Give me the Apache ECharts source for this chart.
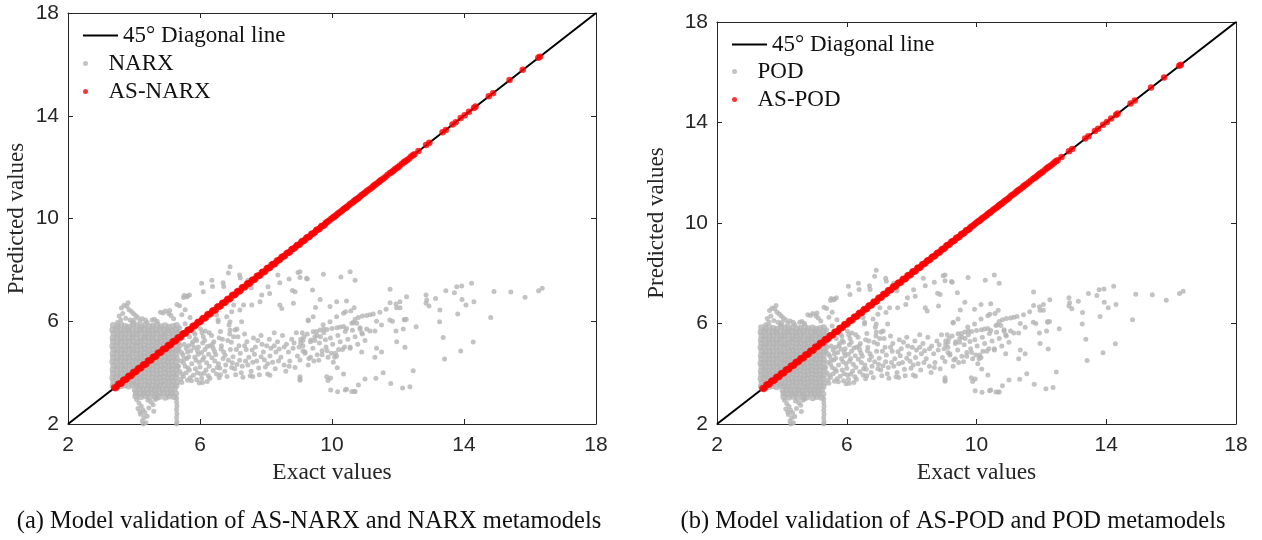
<!DOCTYPE html>
<html>
<head>
<meta charset="utf-8">
<script src="https://cdn.jsdelivr.net/npm/echarts@6/dist/echarts.min.js"></script>
<style>
html,body{margin:0;padding:0;background:#fff;}
#c{width:1262px;height:540px;}
</style>
</head>
<body>
<div id="c"></div>
<script>
// ---------- data ----------
const axisTicks = [2, 6, 10, 14, 18];
const diagonal = [[2, 2], [18, 18]];
const captions = [
  '(a) Model validation of AS-NARX and NARX metamodels',
  '(b) Model validation of AS-POD and POD metamodels'
];
const legendNames = ['45° Diagonal line', 'NARX', 'AS-NARX', 'POD', 'AS-POD'];

// dense block of baseline predictions (gray)
const grayDense = [
  [3.37,5.84],[3.50,5.79],[3.61,5.86],[3.74,5.81],[3.85,5.78],[3.98,5.88],[4.10,5.83],[4.21,5.80],[4.33,5.85],[4.46,5.79],[4.57,5.82],[4.70,5.87],[4.81,5.80],[4.94,5.83],[5.05,5.78],[5.18,5.81],[5.29,5.84],
  [3.35,5.66],[3.47,5.69],[3.59,5.64],[3.72,5.68],[3.83,5.65],[3.96,5.70],[4.07,5.63],[4.19,5.67],[4.31,5.69],[4.43,5.64],[4.56,5.68],[4.67,5.66],[4.79,5.70],[4.91,5.65],[5.03,5.67],[5.15,5.63],[5.27,5.69],
  [3.38,5.52],[3.49,5.49],[3.62,5.53],[3.73,5.50],[3.86,5.54],[3.97,5.48],[4.09,5.51],[4.22,5.55],[4.34,5.49],[4.45,5.52],[4.58,5.50],[4.69,5.53],[4.82,5.48],[4.93,5.51],[5.06,5.54],[5.17,5.50],[5.30,5.52],
  [3.36,5.35],[3.48,5.38],[3.60,5.34],[3.71,5.37],[3.84,5.33],[3.95,5.39],[4.08,5.36],[4.20,5.34],[4.32,5.38],[4.44,5.35],[4.55,5.37],[4.68,5.33],[4.80,5.36],[4.92,5.39],[5.04,5.34],[5.16,5.37],[5.28,5.35],
  [3.37,5.21],[3.50,5.18],[3.61,5.22],[3.74,5.19],[3.85,5.23],[3.98,5.20],[4.10,5.17],[4.21,5.21],[4.33,5.24],[4.46,5.19],[4.57,5.22],[4.70,5.18],[4.81,5.20],[4.94,5.23],[5.05,5.19],[5.18,5.21],[5.29,5.18],
  [3.35,5.04],[3.47,5.07],[3.59,5.03],[3.72,5.06],[3.83,5.02],[3.96,5.08],[4.07,5.05],[4.19,5.03],[4.31,5.07],[4.43,5.04],[4.56,5.06],[4.67,5.02],[4.79,5.05],[4.91,5.08],[5.03,5.03],[5.15,5.06],[5.27,5.04],
  [3.38,4.90],[3.49,4.87],[3.62,4.91],[3.73,4.88],[3.86,4.92],[3.97,4.89],[4.09,4.86],[4.22,4.90],[4.34,4.93],[4.45,4.88],[4.58,4.91],[4.69,4.87],[4.82,4.89],[4.93,4.92],[5.06,4.88],[5.17,4.90],[5.30,4.87],
  [3.36,4.73],[3.48,4.76],[3.60,4.72],[3.71,4.75],[3.84,4.71],[3.95,4.77],[4.08,4.74],[4.20,4.72],[4.32,4.76],[4.44,4.73],[4.55,4.75],[4.68,4.71],[4.80,4.74],[4.92,4.77],[5.04,4.72],[5.16,4.75],[5.28,4.73],
  [3.37,4.59],[3.50,4.56],[3.61,4.60],[3.74,4.57],[3.85,4.61],[3.98,4.58],[4.10,4.55],[4.21,4.59],[4.33,4.62],[4.46,4.57],[4.57,4.60],[4.70,4.56],[4.81,4.58],[4.94,4.61],[5.05,4.57],[5.18,4.59],[5.29,4.56],
  [3.35,4.42],[3.47,4.45],[3.59,4.41],[3.72,4.44],[3.83,4.40],[3.96,4.46],[4.07,4.43],[4.19,4.41],[4.31,4.45],[4.43,4.42],[4.56,4.44],[4.67,4.40],[4.79,4.43],[4.91,4.46],[5.03,4.41],[5.15,4.44],[5.27,4.42],
  [3.38,4.28],[3.49,4.25],[3.62,4.29],[3.73,4.26],[3.86,4.30],[3.97,4.27],[4.09,4.24],[4.22,4.28],[4.34,4.31],[4.45,4.26],[4.58,4.29],[4.69,4.25],[4.82,4.27],[4.93,4.30],[5.06,4.26],[5.17,4.28],[5.30,4.25],
  [3.36,4.11],[3.48,4.14],[3.60,4.10],[3.71,4.13],[3.84,4.09],[3.95,4.15],[4.08,4.12],[4.20,4.10],[4.32,4.14],[4.44,4.11],[4.55,4.13],[4.68,4.09],[4.80,4.12],[4.92,4.15],[5.04,4.10],[5.16,4.13],[5.28,4.11],
  [3.37,3.97],[3.50,3.94],[3.61,3.98],[3.74,3.95],[3.85,3.99],[3.98,3.96],[4.10,3.93],[4.21,3.97],[4.33,4.00],[4.46,3.95],[4.57,3.98],[4.70,3.94],[4.81,3.96],[4.94,3.99],[5.05,3.95],[5.18,3.97],[5.29,3.94],
  [3.35,3.80],[3.47,3.83],[3.59,3.79],[3.72,3.82],[3.83,3.78],[3.96,3.84],[4.07,3.81],[4.19,3.79],[4.31,3.83],[4.43,3.80],[4.56,3.82],[4.67,3.78],[4.79,3.81],[4.91,3.84],[5.03,3.79],[5.15,3.82],[5.27,3.80],
  [3.38,3.66],[3.49,3.63],[3.62,3.67],[3.73,3.64],[3.86,3.68],[3.97,3.65],[4.09,3.62],[4.22,3.66],[4.34,3.69],[4.45,3.64],[4.58,3.67],[4.69,3.63],[4.82,3.65],[4.93,3.68],[5.06,3.64],[5.17,3.66],[5.30,3.63],
  [3.36,3.49],[3.48,3.52],[3.60,3.48],[3.71,3.51],[3.84,3.47],[3.95,3.53],[4.08,3.50],[4.20,3.48],[4.32,3.52],[4.44,3.49],[4.55,3.51],[4.68,3.47],[4.80,3.50],[4.92,3.53],[5.04,3.48],[5.16,3.51],[5.28,3.49],
  [4.03,3.34],[4.15,3.37],[4.27,3.33],[4.39,3.36],[4.51,3.35],[4.63,3.32],[4.75,3.38],[4.87,3.34],[4.99,3.36],[5.11,3.33],[5.23,3.37],
  [4.06,3.21],[4.18,3.18],[4.30,3.22],[4.42,3.19],[4.54,3.23],[4.66,3.17],[4.78,3.20],[4.90,3.22],[5.02,3.18],[5.14,3.21],[5.27,3.19],
  [4.05,3.08],[4.21,3.05],[4.35,3.09],[4.48,3.04],[4.64,3.07],[4.77,3.06],[4.95,3.03],[5.08,3.08],[5.22,3.05]
];

// sparse baseline predictions (gray)
const graySparse = [
  // below the block
  [4.08,2.95],[4.15,2.82],[4.22,2.70],[4.12,2.60],[4.27,2.55],[4.33,2.45],[4.20,2.38],[4.30,2.25],[4.25,2.12],[4.36,2.05],[4.28,2.00],
  [4.40,2.30],[4.45,2.62],[4.52,2.85],[4.58,2.75],[4.65,2.95],[4.42,2.92],[4.70,3.00],[4.18,2.48],[4.60,2.50],
  [5.29,3.00],[5.29,2.85],[5.30,2.70],[5.29,2.55],[5.30,2.40],[5.29,2.25],[5.30,2.10],[5.29,2.00],
  // above the block
  [3.55,6.20],[3.62,6.52],[3.70,6.62],[3.78,6.58],[3.85,6.45],[3.92,6.38],[3.98,6.30],[4.05,6.22],[4.12,6.15],[3.66,6.30],
  [3.60,6.05],[3.75,6.12],[3.88,6.05],[4.00,6.05],[4.18,6.00],[3.50,5.95],[3.82,6.72],[4.25,6.10],[4.35,6.05],[3.95,5.95],[4.40,5.95],
  [4.55,6.05],[4.62,6.08],[4.80,6.35],[4.88,6.32],[4.95,6.40],[5.05,6.30],[5.12,6.22],[5.08,6.42],[5.30,6.65],[5.38,6.60],
  [5.50,6.92],[5.62,6.98],[5.68,7.02],[5.20,6.10],[4.70,6.00],[5.45,6.25],[5.55,6.45],[5.70,6.15],[5.55,5.90],[5.92,5.92],
  // band x 5.3 - 6.3
  [5.38,5.75],[5.45,5.55],[5.40,5.30],[5.52,5.10],[5.36,4.90],[5.48,4.70],[5.42,4.45],[5.55,4.25],[5.38,4.05],[5.50,3.85],
  [5.62,3.70],[5.45,3.62],[5.60,5.62],[5.68,5.40],[5.65,5.05],[5.72,4.85],[5.60,4.55],[5.75,4.35],[5.68,4.10],[5.80,3.90],
  [5.74,3.68],[5.85,5.50],[5.90,5.25],[5.82,4.98],[5.95,4.72],[5.88,4.48],[6.00,4.22],[5.92,4.00],[6.05,3.78],[6.02,5.70],
  [6.10,5.40],[6.08,5.15],[6.15,4.90],[6.12,4.60],[6.20,4.38],[6.18,4.10],[6.25,3.88],[6.22,3.65],[5.98,3.60],[5.78,5.75],
  [6.28,5.55],[6.30,5.05],[5.42,3.75],[5.58,4.00],[5.35,4.25],[5.52,4.55],[5.62,4.80],[5.40,5.05],[5.78,5.20],[5.95,5.00],
  [5.33,5.60],[5.47,5.38],[5.36,5.15],[5.58,4.95],[5.44,4.78],[5.66,4.62],[5.50,4.38],[5.64,4.18],[5.46,3.95],[5.70,3.80],
  [5.80,5.58],[5.86,5.32],[5.76,5.10],[5.92,4.85],[5.84,4.60],[5.98,4.40],[5.86,4.15],[6.02,3.95],[5.90,3.72],[6.08,3.62],
  [6.06,5.55],[6.14,5.25],[6.22,5.02],[6.05,4.78],[6.26,4.72],[6.08,4.50],[6.28,4.25],[6.12,3.98],[6.30,3.78],[6.16,5.62],
  // band x 6.3 - 7.3
  [6.35,5.45],[6.42,5.20],[6.40,4.95],[6.48,4.70],[6.45,4.45],[6.52,4.20],[6.50,3.95],[6.58,3.80],[6.62,5.60],[6.68,5.30],
  [6.65,5.05],[6.72,4.80],[6.70,4.55],[6.78,4.30],[6.75,4.05],[6.82,3.85],[6.90,5.50],[6.95,5.18],[6.92,4.90],[7.00,4.62],
  [6.98,4.38],[7.05,4.15],[7.08,3.92],[7.15,5.40],[7.18,5.05],[7.22,4.75],[7.20,4.48],[7.28,4.25],[7.25,4.00],[7.12,5.70],
  [6.88,5.85],[6.55,6.05],[7.30,3.82],
  [6.38,5.10],[6.44,4.82],[6.36,4.58],[6.56,4.35],[6.40,4.08],[6.62,3.92],[6.58,5.35],[6.64,4.92],[6.76,4.68],[6.60,4.18],
  [6.84,5.25],[6.86,4.48],[6.96,4.20],[7.02,5.40],[7.10,4.90],[7.12,4.32],
  // band x 7.3 - 9.0
  [7.35,5.50],[7.42,5.20],[7.40,4.90],[7.48,4.60],[7.45,4.30],[7.55,4.05],[7.52,3.88],[7.62,5.35],[7.68,5.00],[7.65,4.72],
  [7.72,4.45],[7.78,4.18],[7.85,5.45],[7.88,5.10],[7.92,4.80],[7.95,4.50],[7.98,4.22],[8.05,3.95],[8.10,5.30],[8.15,4.95],
  [8.12,4.65],[8.20,4.40],[8.25,5.55],[8.28,4.15],[7.60,3.85],[7.80,3.92],[8.12,3.90],
  [7.35,5.05],[7.38,4.45],[7.58,4.88],[7.60,4.40],[7.75,5.25],[7.85,4.62],[8.02,5.05],[8.05,4.35],[8.30,4.80],[8.38,4.45],
  [8.55,5.00],[8.70,4.25],[8.85,5.15],[8.25,5.05],
  [8.35,5.20],[8.40,4.92],[8.45,4.60],[8.50,5.45],[8.55,4.30],[8.62,5.10],[8.68,4.80],[8.72,4.45],[8.78,5.30],[8.82,4.95],
  [8.88,4.20],[8.92,5.55],[8.95,4.65],[9.00,5.00],[8.60,4.05],
  // upper scatter x 6 - 9
  [6.91,8.12],[6.86,7.88],[7.20,7.80],[7.22,7.68],[6.70,7.50],[6.72,7.35],[6.05,7.48],[6.10,7.15],[5.52,7.00],[5.60,6.95],
  [6.36,7.60],[6.38,7.35],[7.45,7.60],[7.50,7.40],[7.55,7.30],[8.36,7.80],[8.42,7.50],[8.70,7.64],[8.97,7.90],[9.03,7.70],
  [9.23,7.67],[8.80,7.20],[8.88,7.15],
  [8.06,7.34],[8.11,7.08],[7.87,7.02],[7.82,6.76],[7.57,6.63],[7.32,6.63],[7.21,6.44],[7.02,6.63],[6.96,6.37],[6.81,6.18],
  [6.91,5.98],[6.50,6.24],[6.55,5.98],[7.26,5.98],[6.91,5.66],[7.06,5.66],
  [8.42,6.63],[8.48,6.50],[8.83,6.70],[9.28,6.05],[9.43,6.18],[9.53,5.60],[9.73,5.86],[9.94,5.98],[10.14,6.18],[10.35,6.31],
  [10.44,5.72],[10.60,5.92],[10.75,5.92],
  // band x 9 - 12.5
  [9.05,5.30],[9.12,5.05],[9.18,4.80],[9.25,5.50],[9.30,4.55],[9.35,5.20],[9.42,4.95],[9.48,5.40],[9.55,4.70],[9.62,5.15],
  [9.70,4.85],[9.75,5.55],[9.82,5.00],[9.88,4.60],[9.95,5.35],[10.02,5.10],[10.10,4.75],[10.18,5.45],[10.25,5.20],[10.32,4.90],
  [10.40,5.60],[10.48,5.30],[10.55,4.95],[10.62,5.65],[10.70,5.40],[10.78,5.10],[10.85,5.75],[10.92,5.50],[11.00,5.25],
  [9.28,6.02],[9.10,5.55],[9.15,5.40],[9.12,5.25],[9.05,5.15],[9.43,5.59],[9.64,5.66],[9.75,5.70],[9.85,5.68],[10.00,5.72],
  [10.15,5.75],[10.25,5.78],[10.35,5.80],[9.55,5.45],[9.65,5.40],[9.80,5.28],[9.36,5.27],[9.48,5.25],[9.12,4.85],[9.18,4.75],
  [9.35,4.60],[9.45,4.45],[9.60,4.48],[9.70,4.70],[9.85,4.85],[9.98,4.75],[10.20,4.90],[10.38,5.00],[10.55,5.00],[10.65,5.95],
  [10.70,6.08],[10.80,6.15],[10.92,6.20],[11.05,6.22],[11.15,6.25],[11.25,6.28],[11.45,6.35],[10.85,5.70],[10.90,5.55],[11.05,5.70],
  [11.15,5.62],[11.30,5.62],[11.50,5.85],[11.75,6.05],[11.83,6.00],[11.35,6.00],[10.90,4.80],[11.30,4.60],[11.35,4.95],[11.50,4.80],
  [12.20,6.05],[12.25,6.08],[9.03,4.49],[9.28,4.30],[9.03,3.75],[9.84,3.84],[10.40,3.32],[10.67,3.27],
  // isolated points x 9 - 16.5
  [9.03,7.93],[9.25,7.64],[9.74,7.83],[10.27,7.72],[10.55,7.93],[10.70,7.60],[9.41,7.22],[11.76,7.25],[9.64,6.85],[9.50,6.54],
  [9.94,6.57],[10.14,6.76],[10.44,6.79],[10.41,6.37],[10.57,6.40],[10.67,6.53],[11.76,6.72],[11.94,6.67],[12.06,6.76],[11.96,6.53],
  [12.06,6.53],[12.26,6.95],[11.64,6.47],[12.85,7.02],[12.87,6.83],[12.85,6.70],[12.94,6.59],[13.14,6.89],[13.27,6.44],[13.45,7.19],
  [13.71,7.11],[13.78,7.34],[13.93,7.37],[14.23,7.48],[13.94,6.85],[14.06,6.63],[14.30,6.76],[13.81,6.28],[13.26,5.98],[13.37,5.37],
  [13.41,4.53],[13.90,4.84],[14.28,5.19],[14.81,6.15],[14.91,7.16],[15.42,7.14],[15.85,6.93],[16.26,7.19],[16.37,7.28],[12.55,5.79],
  [12.19,6.07],[12.16,5.70],[11.94,5.62],[11.96,5.20],[12.21,4.99],[12.46,4.07],[12.36,3.45],[12.14,3.40],[11.78,3.58],[11.55,4.00],
  [11.33,3.78],[11.00,3.75],[10.80,3.52],[10.70,3.27],[10.60,3.27],[10.44,3.35],[10.17,3.26],[9.96,3.32],[9.88,3.69],[9.96,3.79],
  [10.35,3.95],[10.16,4.19],[10.04,4.40],[10.14,4.65],[10.08,4.60],[9.03,3.84],[9.03,3.70]
];

// active-subspace predictions (red), lying on the diagonal
const redPoints = [
  [3.40,3.42],[3.48,3.45],[3.55,3.58],[3.63,3.60],[3.70,3.73],[3.78,3.75],[3.85,3.88],[3.93,3.90],[4.00,4.03],[4.08,4.05],
  [4.15,4.18],[4.23,4.20],[4.30,4.33],[4.38,4.35],[4.45,4.48],[4.53,4.50],[4.60,4.63],[4.68,4.65],[4.75,4.78],[4.83,4.80],
  [4.90,4.93],[4.98,4.95],[5.05,5.08],[5.13,5.10],[5.20,5.23],[5.28,5.25],[5.35,5.38],[5.43,5.40],[5.50,5.53],[5.58,5.55],
  [5.65,5.68],[5.73,5.70],[5.80,5.83],[5.88,5.85],[5.95,5.98],[6.03,6.00],[6.10,6.13],[6.18,6.15],[6.25,6.28],[6.33,6.30],
  [6.40,6.43],[6.48,6.45],[6.55,6.58],[6.63,6.60],[6.70,6.73],[6.78,6.75],[6.85,6.88],[6.93,6.90],[7.00,7.03],[7.08,7.05],
  [7.15,7.18],[7.23,7.20],[7.30,7.33],[7.38,7.35],[7.45,7.48],[7.53,7.50],[7.60,7.63],[7.68,7.65],[7.75,7.78],[7.83,7.80],
  [7.90,7.93],[7.98,7.95],[8.05,8.08],[8.13,8.10],[8.20,8.23],[8.28,8.25],[8.35,8.37],[8.43,8.41],[8.50,8.52],[8.58,8.56],
  [8.65,8.67],[8.73,8.71],[8.80,8.82],[8.88,8.86],[8.95,8.97],[9.03,9.01],[9.10,9.12],[9.18,9.16],[9.25,9.27],[9.33,9.31],
  [9.40,9.42],[9.48,9.46],[9.55,9.57],[9.63,9.61],[9.70,9.72],[9.78,9.76],[9.85,9.86],[9.95,9.96],[10.05,10.06],[10.12,10.12],
  [10.20,10.21],[10.30,10.30],[10.38,10.39],[10.45,10.45],[10.55,10.56],[10.65,10.65],[10.72,10.73],[10.80,10.80],[10.90,10.91],[11.00,11.00],
  [11.10,11.11],[11.22,11.22],[11.30,11.31],[11.42,11.42],[11.50,11.51],[11.62,11.62],[11.75,11.76],[11.85,11.85],[11.95,11.96],[12.05,12.05],
  [12.18,12.19],[12.28,12.28],[12.40,12.41],[12.50,12.50],[12.62,12.63],[12.85,12.86],[12.95,12.95],[13.35,13.36],[13.45,13.45],[13.65,13.66],
  [13.75,13.75],[13.90,13.91],[14.02,14.02],[14.15,14.16],[14.30,14.30],[14.35,14.36],[14.75,14.76],[14.88,14.88],[15.38,15.39],[15.78,15.79],
  [16.25,16.26],[16.30,16.30],
  [3.44,3.39],[3.52,3.55],[3.59,3.56],[3.67,3.70],[3.74,3.71],[3.82,3.85],[3.89,3.86],[3.97,4.00],[4.04,4.01],[4.12,4.15],
  [4.19,4.16],[4.27,4.30],[4.34,4.31],[4.42,4.45],[4.49,4.46],[4.57,4.60],[4.64,4.61],[4.72,4.75],[4.79,4.76],[4.87,4.90],
  [4.94,4.91],[5.02,5.05],[5.09,5.06],[5.17,5.20],[5.24,5.21],[5.32,5.35],[5.39,5.36],[5.47,5.50],[5.54,5.51],[5.62,5.65],
  [5.69,5.66],[5.77,5.80],[5.84,5.81],[5.92,5.95],[5.99,5.96],[6.07,6.10],[6.14,6.11],[6.22,6.25],[6.29,6.26],[6.37,6.40],
  [6.44,6.41],[6.52,6.55],[6.59,6.56],[6.67,6.70],[6.74,6.71],[6.82,6.85],[6.89,6.86],[6.97,7.00],[7.04,7.01],[7.12,7.15],
  [7.19,7.16],[7.27,7.30],[7.34,7.31],[7.42,7.45],[7.49,7.46],[7.57,7.60],[7.64,7.61],[7.72,7.75],[7.79,7.76],[7.87,7.90],
  [7.94,7.91],[8.02,8.05],[8.09,8.06],[8.17,8.20],[8.24,8.21],[8.32,8.34],[8.39,8.37],[8.47,8.49],[8.54,8.52],[8.62,8.64],
  [8.69,8.67],[8.77,8.79],[8.84,8.82],[8.92,8.94],[8.99,8.97],[9.07,9.09],[9.14,9.12],[9.22,9.24],[9.29,9.27],[9.37,9.39],
  [9.44,9.42],[9.52,9.54],[9.59,9.57],[9.67,9.69],[9.74,9.72],[9.81,9.82],[9.90,9.90],[10.00,10.01],[10.08,10.08],[10.16,10.17],
  [10.25,10.25],[10.34,10.35],[10.42,10.42],[10.50,10.51],[10.60,10.60],[10.68,10.69],[10.76,10.76],[10.85,10.86],[10.95,10.95],[11.05,11.06],
  [11.16,11.16],[11.26,11.27],[11.36,11.36],[11.46,11.47],[11.56,11.56],[11.68,11.69],[11.80,11.80],[11.90,11.91],[12.00,12.00],[12.12,12.13],
  [12.22,12.23],[12.34,12.34],[12.45,12.46]
];

// the two panels show the same sample sets
const narxDense = grayDense, narxSparse = graySparse, asNarxRed = redPoints;
const podDense = grayDense, podSparse = graySparse, asPodRed = redPoints;

// ---------- chart ----------
const TICK_FONT = 'Liberation Sans';
const SERIF = 'Liberation Serif';
const INK = '#262626';
const GRAY = '#b4b4b4';
const RED = '#ff0000';

const grids = [
  {left: 68, top: 13, width: 528, height: 411},
  {left: 717, top: 22, width: 519, height: 402}
];
const yNameGaps = [40, 49];

function baseAxis(gridIndex, pos, showLabels, extra) {
  return Object.assign({
    type: 'value', gridIndex: gridIndex, position: pos,
    min: axisTicks[0], max: axisTicks[axisTicks.length - 1], interval: axisTicks[1] - axisTicks[0],
    axisLine: {show: true, onZero: false, lineStyle: {color: INK, width: 1}},
    axisTick: {show: true, inside: true, length: 5, lineStyle: {color: INK, width: 1}},
    axisLabel: {show: showLabels, color: INK, fontFamily: TICK_FONT, fontSize: 21, margin: pos === 'bottom' ? 11 : 9},
    splitLine: {show: false}
  }, extra || {});
}

const xAxes = [], yAxes = [];
grids.forEach((g, i) => {
  xAxes.push(baseAxis(i, 'bottom', true, {
    name: 'Exact values', nameLocation: 'middle', nameGap: 36,
    nameTextStyle: {color: INK, fontFamily: SERIF, fontSize: 23.5}
  }));
  xAxes.push(baseAxis(i, 'top', false));
  yAxes.push(baseAxis(i, 'left', true, {
    name: 'Predicted values', nameLocation: 'middle', nameGap: yNameGaps[i],
    nameTextStyle: {color: INK, fontFamily: SERIF, fontSize: 23}
  }));
  yAxes.push(baseAxis(i, 'right', false));
});

function panelSeries(i, grayName, redName, dense, sparse, red) {
  const ax = {xAxisIndex: i * 2, yAxisIndex: i * 2};
  return [
    Object.assign({name: legendNames[0], type: 'line', data: diagonal,
     symbol: 'none', lineStyle: {color: '#000', width: 2}, itemStyle: {color: '#000'}, z: 1}, ax),
    Object.assign({name: grayName, type: 'scatter', data: dense,
     symbolSize: 6.5, itemStyle: {color: GRAY}, z: 2}, ax),
    Object.assign({name: grayName, type: 'scatter', data: sparse,
     symbolSize: 5, itemStyle: {color: GRAY}, z: 2}, ax),
    Object.assign({name: redName, type: 'scatter', data: red,
     symbolSize: 6.5, itemStyle: {color: RED}, z: 3}, ax)
  ];
}

const legendText = {color: '#111', fontFamily: SERIF, fontSize: 23};
function legendItem(name, icon, left, centerY, w, h) {
  return {
    data: [{name: name, icon: icon}], left: left, top: centerY - 11, padding: 0,
    itemWidth: w, itemHeight: h, itemGap: 0, selectedMode: false, textStyle: legendText
  };
}

const option = {
  animation: false,
  backgroundColor: '#fff',
  grid: grids,
  xAxis: xAxes,
  yAxis: yAxes,
  legend: [
    legendItem(legendNames[0], 'rect', 83, 35, 35, 2),
    legendItem(legendNames[1], 'circle', 83, 63, 36, 5),
    legendItem(legendNames[2], 'circle', 83, 91, 36, 5),
    legendItem(legendNames[0], 'rect', 732, 44, 35, 2),
    legendItem(legendNames[3], 'circle', 732, 71, 36, 5),
    legendItem(legendNames[4], 'circle', 732, 99, 36, 5)
  ],
  title: [
    {text: captions[0], left: 309, top: 509, textAlign: 'center', padding: 0,
     textStyle: {color: '#111', fontFamily: SERIF, fontSize: 24.5, fontWeight: 'normal'}},
    {text: captions[1], left: 953, top: 509, textAlign: 'center', padding: 0,
     textStyle: {color: '#111', fontFamily: SERIF, fontSize: 24.5, fontWeight: 'normal'}}
  ],
  series: panelSeries(0, legendNames[1], legendNames[2], narxDense, narxSparse, asNarxRed)
    .concat(panelSeries(1, legendNames[3], legendNames[4], podDense, podSparse, asPodRed))
};

const chart = echarts.init(document.getElementById('c'), null, {renderer: 'canvas'});
chart.setOption(option);
</script>
</body>
</html>
